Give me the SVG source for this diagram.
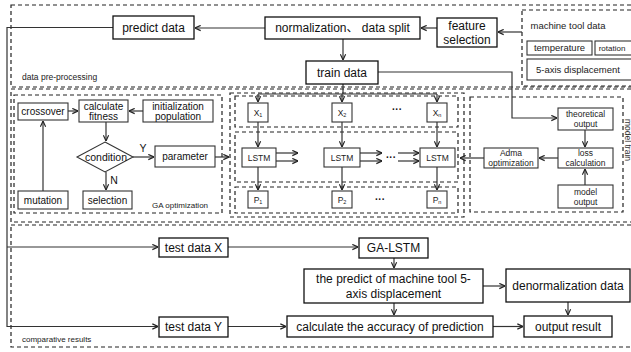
<svg xmlns="http://www.w3.org/2000/svg" width="631" height="352" viewBox="0 0 631 352">
<style>
text{font-family:"Liberation Sans","Noto Sans CJK SC",Arial,sans-serif;fill:#111;text-anchor:middle}
.b{fill:#fff;stroke:#111;stroke-width:1.3}
.s{fill:#fff;stroke:#333;stroke-width:1.1}
.d{fill:none;stroke:#222;stroke-width:1.2;stroke-dasharray:4 3}
.c{fill:none;stroke:#333;stroke-width:1.2}
.a{marker-end:url(#ah)}
.t12{font-size:12px}
.t10{font-size:10px}
.t9{font-size:9.5px}
.t85{font-size:8.5px;fill:#222}
.lab{font-size:8.5px;text-anchor:start;fill:#222}
</style>
<defs>
<marker id="ah" viewBox="0 0 8 8" refX="7.5" refY="4" markerWidth="7" markerHeight="7" orient="auto" markerUnits="userSpaceOnUse">
<path d="M1,1 L7.5,4 L1,7" fill="none" stroke="#222" stroke-width="1.3"/>
</marker>
</defs>
<rect width="631" height="352" fill="#fff"/>

<g id="frames">
<rect class="d" x="11" y="5" width="623" height="82"/>
<rect class="d" x="11" y="89" width="623" height="133"/>
<rect class="d" x="11" y="225" width="623" height="122"/>
<rect class="d" x="14" y="95" width="208" height="118"/>
<rect class="d" x="230" y="93" width="234" height="124"/>
<rect class="d" x="235" y="96" width="223" height="31"/>
<rect class="d" x="235" y="132" width="223" height="50"/>
<rect class="d" x="235" y="187" width="223" height="26"/>
<rect class="d" x="470" y="97" width="153" height="115"/>
<rect class="d" x="522" y="10" width="112" height="76"/>
<text class="lab" x="22" y="80">data pre-processing</text>
<text class="lab" x="22" y="342" style="font-size:8px">comparative results</text>
<text x="152" y="208" style="font-size:8px;text-anchor:start;fill:#222">GA optimization</text>
<text transform="translate(624.5,140) rotate(90)" style="font-size:8.5px;fill:#333">model train</text>
<text x="568" y="28.5" class="t9" style="fill:#222">machine tool data</text>
</g>

<g id="connectors">
<polyline class="c" points="113,27.5 7,27.5 7,326.5 158,326.5" marker-end="url(#ah)"/>
<line class="c a" x1="7" y1="247" x2="158" y2="247"/>
<line class="c a" x1="265" y1="28" x2="195" y2="28"/>
<line class="c a" x1="437" y1="28" x2="421" y2="28"/>
<line class="c a" x1="522" y1="32" x2="498" y2="32"/>
<line class="c a" x1="343" y1="39" x2="343" y2="60"/>
<polyline class="c a" points="378,72 512,72 512,118 557,118"/>
<polyline class="c" points="343,84 343,94"/>
<line class="c" x1="258" y1="94" x2="437" y2="94"/>
<line class="c a" x1="258" y1="94" x2="258" y2="102"/>
<line class="c a" x1="342" y1="94" x2="342" y2="102"/>
<line class="c a" x1="437" y1="94" x2="437" y2="102"/>
<line class="c a" x1="258" y1="122" x2="258" y2="147"/>
<line class="c a" x1="342" y1="122" x2="342" y2="147"/>
<line class="c a" x1="437" y1="122" x2="437" y2="147"/>
<line class="c a" x1="258" y1="167" x2="258" y2="190"/>
<line class="c a" x1="342" y1="167" x2="342" y2="190"/>
<line class="c a" x1="437" y1="167" x2="437" y2="190"/>
<line class="c a" x1="276" y1="153" x2="298" y2="153"/>
<line class="c a" x1="276" y1="161" x2="298" y2="161"/>
<line class="c a" x1="360" y1="153" x2="382" y2="153"/>
<line class="c a" x1="360" y1="161" x2="382" y2="161"/>
<line class="c a" x1="398" y1="153" x2="419" y2="153"/>
<line class="c a" x1="398" y1="161" x2="419" y2="161"/>
<line class="c a" x1="215" y1="157" x2="229" y2="157"/>
<line class="c a" x1="484" y1="158" x2="460" y2="158"/>
<line class="c a" x1="558" y1="158" x2="539" y2="158"/>
<line class="c a" x1="585" y1="130" x2="585" y2="147"/>
<line class="c a" x1="585" y1="185" x2="585" y2="169"/>
<line class="c a" x1="68" y1="111" x2="78" y2="111"/>
<line class="c a" x1="143" y1="111" x2="129" y2="111"/>
<line class="c a" x1="106" y1="122" x2="106" y2="141"/>
<line class="c a" x1="133" y1="157" x2="154" y2="157"/>
<line class="c a" x1="106" y1="172" x2="106" y2="190"/>
<line class="c a" x1="43" y1="191" x2="43" y2="121"/>
<line class="c a" x1="228" y1="247" x2="358" y2="247"/>
<line class="c a" x1="394" y1="258" x2="394" y2="268"/>
<line class="c a" x1="483" y1="286" x2="505" y2="286"/>
<line class="c a" x1="394" y1="303" x2="394" y2="315"/>
<line class="c a" x1="568" y1="302" x2="568" y2="315"/>
<line class="c a" x1="493" y1="326.5" x2="523" y2="326.5"/>
<line class="c a" x1="228" y1="326.5" x2="286" y2="326.5"/>
<text x="143" y="152" style="font-size:10.5px">Y</text>
<text x="114" y="184" style="font-size:10.5px">N</text>
</g>

<g id="predict-data"><rect class="b" x="113" y="16" width="81" height="23"/><text class="t12" x="153.5" y="31.7">predict data</text></g>
<g id="normalization"><rect class="b" x="265" y="17" width="155" height="22"/><text class="t12" x="342.5" y="32.2">normalization、 data split</text></g>
<g id="feature-selection"><rect class="b" x="437" y="18" width="60" height="29"/><text class="t12" x="467" y="29.5">feature</text><text class="t12" x="467" y="43.5">selection</text></g>
<g id="temperature"><rect class="s" x="527" y="41" width="65" height="14"/><text class="t9" x="559.5" y="51.3" style="fill:#222">temperature</text></g>
<g id="rotation"><rect class="s" x="595" y="41" width="38" height="14"/><text x="612" y="51" style="font-size:8px;fill:#222">rotation</text></g>
<g id="five-axis"><rect class="s" x="527" y="59" width="106" height="21"/><text x="578" y="72.8" style="font-size:9.5px;fill:#222">5-axis displacement</text></g>
<g id="train-data"><rect class="b" x="306" y="61" width="72" height="23"/><text class="t12" x="342" y="76.7">train data</text></g>

<g id="crossover"><rect class="s" x="18" y="103" width="50" height="17"/><text class="t10" x="43" y="115">crossover</text></g>
<g id="calc-fitness"><rect class="s" x="79" y="100" width="49" height="22"/><text class="t10" x="103.5" y="109.5">calculate</text><text class="t10" x="103.5" y="119.5">fitness</text></g>
<g id="init-pop"><rect class="s" x="143" y="100" width="70" height="22"/><text class="t10" x="178" y="109.5">initialization</text><text class="t10" x="178" y="119.5">population</text></g>
<g id="condition"><polygon class="s" points="105,142 133,157 105,172 77,157"/><text x="106" y="160.8" style="font-size:10.5px">condition</text></g>
<g id="parameter"><rect class="s" x="155" y="146" width="60" height="21"/><text class="t10" x="185" y="160">parameter</text></g>
<g id="mutation"><rect class="s" x="18" y="191" width="50" height="18"/><text class="t10" x="43" y="203.5">mutation</text></g>
<g id="selection"><rect class="s" x="83" y="191" width="49" height="18"/><text class="t10" x="107.5" y="203.5">selection</text></g>

<g id="x1"><rect class="s" x="248" y="103" width="20" height="19"/><text class="t85" x="258" y="115.5">X<tspan style="font-size:5.5px" dy="1.5">1</tspan></text></g>
<g id="x2"><rect class="s" x="332" y="103" width="20" height="19"/><text class="t85" x="342" y="115.5">X<tspan style="font-size:5.5px" dy="1.5">2</tspan></text></g>
<g id="xn"><rect class="s" x="427" y="103" width="20" height="19"/><text class="t85" x="437" y="115.5">X<tspan style="font-size:5.5px" dy="1.5">n</tspan></text></g>
<text x="397" y="113" style="font-size:10px;font-weight:bold">···</text>
<g id="lstm1"><rect class="s" x="242" y="148" width="34" height="19"/><text class="t85" x="259" y="160.5">LSTM</text></g>
<g id="lstm2"><rect class="s" x="324" y="148" width="36" height="19"/><text class="t85" x="342" y="160.5">LSTM</text></g>
<g id="lstm3"><rect class="s" x="420" y="148" width="35" height="19"/><text class="t85" x="437.5" y="160.5">LSTM</text></g>
<text x="391" y="161" style="font-size:10px;font-weight:bold">···</text>
<g id="p1"><rect class="s" x="248" y="191" width="20" height="17"/><text class="t85" x="258" y="202.5">P<tspan style="font-size:5.5px" dy="1.5">1</tspan></text></g>
<g id="p2"><rect class="s" x="332" y="191" width="20" height="17"/><text class="t85" x="342" y="202.5">P<tspan style="font-size:5.5px" dy="1.5">2</tspan></text></g>
<g id="pn"><rect class="s" x="427" y="191" width="20" height="17"/><text class="t85" x="437" y="202.5">P<tspan style="font-size:5.5px" dy="1.5">n</tspan></text></g>
<text x="380" y="203" style="font-size:10px;font-weight:bold">···</text>

<g id="theoretical"><rect class="s" x="558" y="108" width="55" height="22"/><text class="t85" x="585.5" y="117">theoretical</text><text class="t85" x="585.5" y="127">output</text></g>
<g id="loss"><rect class="s" x="558" y="148" width="55" height="20"/><text class="t85" x="585.5" y="156">loss</text><text class="t85" x="585.5" y="166">calculation</text></g>
<g id="model-output"><rect class="s" x="558" y="185" width="55" height="23"/><text class="t85" x="585.5" y="194.5">model</text><text class="t85" x="585.5" y="204.5">output</text></g>
<g id="adma"><rect class="s" x="484" y="148" width="54" height="20"/><text class="t85" x="511" y="156">Adma</text><text class="t85" x="511" y="166">optimization</text></g>

<g id="test-x"><rect class="b" x="159" y="238" width="69" height="19"/><text class="t12" x="193.5" y="251.7">test data X</text></g>
<g id="ga-lstm"><rect class="b" x="359" y="238" width="69" height="20"/><text class="t12" x="393.5" y="252.2">GA-LSTM</text></g>
<g id="predict-5axis"><rect class="b" x="304" y="269" width="179" height="34"/><text class="t12" x="393.5" y="283.2">the predict of machine tool 5-</text><text class="t12" x="393.5" y="298.2">axis displacement</text></g>
<g id="denorm"><rect class="b" x="506" y="269" width="124" height="33"/><text class="t12" x="568" y="290">denormalization data</text></g>
<g id="test-y"><rect class="b" x="159" y="317" width="69" height="20"/><text class="t12" x="193.5" y="331.2">test data Y</text></g>
<g id="accuracy"><rect class="b" x="287" y="316" width="206" height="21"/><text class="t12" x="390" y="330.7">calculate the accuracy of prediction</text></g>
<g id="output-result"><rect class="b" x="524" y="316" width="88" height="21"/><text class="t12" x="568" y="330.7">output result</text></g>
</svg>
